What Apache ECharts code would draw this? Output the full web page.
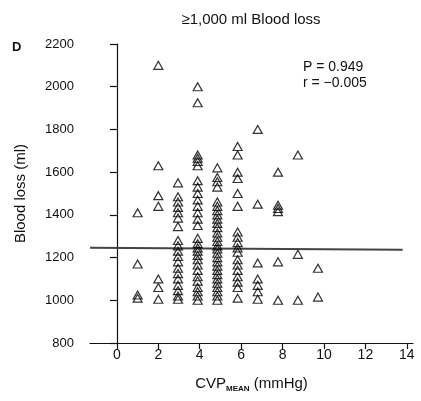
<!DOCTYPE html>
<html>
<head>
	<title>Blood loss vs CVP</title>
	<meta charset="utf-8">
	<style type="text/css">
		html, body { margin: 0; padding: 0; background-color: #fff; }
		#main { width: 421px; height: 401px; }
	</style>
	<script src="https://cdn.jsdelivr.net/npm/echarts@6/dist/echarts.min.js"></script>
</head>
<body>
	<div id="main"></div>
	<script type="text/javascript">

	// CVP mean columns (mmHg)
	var cvpLevels = [1, 2, 2.95, 3.9, 4.85, 5.83, 6.8, 7.78, 8.74, 9.71];

	// blood loss (ml) for each CVP column
	var loss1 = [1410, 1170, 1025, 1010];
	var loss2 = [2100, 1630, 1490, 1440, 1100, 1060, 1005];
	var loss3 = [1550, 1485, 1460, 1435, 1410, 1385, 1345, 1280, 1255, 1230, 1205, 1180, 1150, 1125, 1100, 1070, 1045, 1020, 1005];
	var loss4 = [2000, 1925, 1680, 1665, 1650, 1630, 1560, 1530, 1500, 1470, 1440, 1410, 1380, 1350, 1290, 1265, 1245, 1230, 1210, 1190, 1165, 1140, 1110, 1090, 1060, 1040, 1020, 1000];
	var loss5 = [1620, 1575, 1555, 1530, 1460, 1440, 1420, 1400, 1380, 1360, 1340, 1315, 1295, 1275, 1255, 1240, 1220, 1200, 1180, 1160, 1140, 1120, 1100, 1080, 1060, 1040, 1020, 1000];
	var loss6 = [1720, 1680, 1600, 1570, 1500, 1440, 1320, 1295, 1270, 1245, 1225, 1190, 1165, 1140, 1110, 1085, 1060, 1010];
	var loss7 = [1800, 1450, 1175, 1100, 1070, 1040, 1005];
	var loss8 = [1600, 1445, 1430, 1415, 1180, 1000];
	var loss9 = [1680, 1215, 1000];
	var loss10 = [1150, 1015];
	var lossColumns = [loss1, loss2, loss3, loss4, loss5, loss6, loss7, loss8, loss9, loss10];

	// regression line ends
	var fitX = [-1.3, 13.8];
	var fitY = [1246, 1237];

	var xTicks = [0, 2, 4, 6, 8, 10, 12, 14];
	var statsText = 'P = 0.949\nr = \u22120.005';

	var points = [];
	for (var i = 0; i < cvpLevels.length; i++) {
		for (var j = 0; j < lossColumns[i].length; j++) {
			points.push([cvpLevels[i], lossColumns[i][j]]);
		}
	}
	var fitLine = fitX.map(function (x, k) { return [x, fitY[k]]; });

	var font = 'Liberation Sans, Arial, sans-serif';
	var axisColor = '#111';

	var option = {
		animation: false,
		grid: { left: 90, right: 8, top: 44, bottom: 58 },
		xAxis: {
			type: 'value',
			min: -1.3,
			max: 14.3,
			axisLine: { onZero: false, lineStyle: { color: axisColor, width: 1.2 } },
			axisTick: { customValues: xTicks, length: 6, lineStyle: { color: axisColor, width: 1.2 } },
			axisLabel: { customValues: xTicks, margin: 5, fontSize: 14, color: axisColor, fontFamily: font },
			splitLine: { show: false },
			name: '{a|CVP}{b|MEAN}{a| (mmHg)}',
			nameLocation: 'middle',
			nameGap: 32,
			nameTextStyle: {
				color: axisColor,
				rich: {
					a: { fontSize: 15, lineHeight: 18, fontFamily: font, color: axisColor },
					b: { fontSize: 8, fontWeight: 'bold', lineHeight: 9, verticalAlign: 'bottom', fontFamily: font, color: axisColor }
				}
			}
		},
		yAxis: {
			type: 'value',
			min: 800,
			max: 2200,
			interval: 200,
			axisLine: { show: true, lineStyle: { color: axisColor, width: 1.2 } },
			axisTick: { show: true, length: 7, lineStyle: { color: axisColor, width: 1.2 } },
			axisLabel: {
				margin: 16, fontSize: 13, color: axisColor, fontFamily: font,
				formatter: function (v) { return String(v); }
			},
			splitLine: { show: false },
			name: 'Blood loss (ml)',
			nameLocation: 'middle',
			nameRotate: 90,
			nameGap: 62,
			nameTextStyle: { fontSize: 15, color: axisColor, fontFamily: font }
		},
		graphic: [
			{ type: 'text', x: 251, y: 20, style: { text: '\u22651,000 ml Blood loss', font: '15px ' + font, fill: axisColor, align: 'center', verticalAlign: 'middle' } },
			{ type: 'text', x: 12, y: 47, style: { text: 'D', font: 'bold 13px ' + font, fill: axisColor, align: 'left', verticalAlign: 'middle' } },
			{ type: 'text', x: 303, y: 59, style: { text: statsText, font: '14px ' + font, lineHeight: 16, fill: axisColor, align: 'left', verticalAlign: 'top' } }
		],
		series: [
			{
				type: 'line',
				data: fitLine,
				showSymbol: false,
				silent: true,
				lineStyle: { color: '#444', width: 2 },
				z: 2
			},
			{
				type: 'scatter',
				data: points,
				symbol: 'triangle',
				symbolSize: [9, 8],
				silent: true,
				itemStyle: { color: 'rgba(0,0,0,0)', borderColor: '#000', borderWidth: 1.2 },
				z: 3
			}
		]
	};

	var myChart = echarts.init(document.getElementById('main'));
	myChart.setOption(option);

	</script>
</body>
</html>
